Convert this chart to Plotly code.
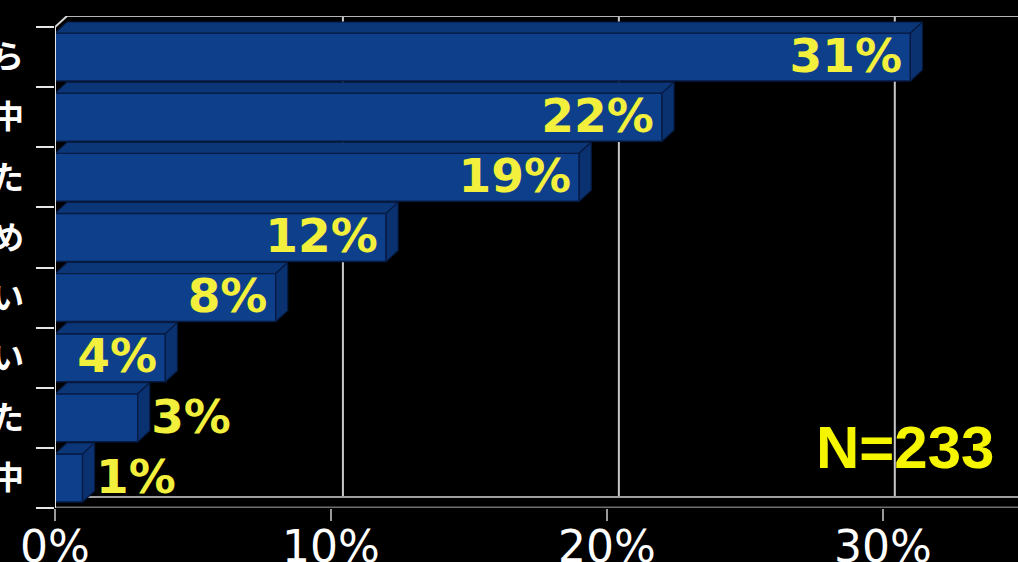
import plotly.graph_objects as go

# Survey answers (only the tail characters of each label are shown)
labels = ["ら", "中", "た", "め", "い", "い", "た", "中"]
values = [31, 22, 19, 12, 8, 4, 3, 1]
value_text = [f"{v}%" for v in values]
x_ticks = [0, 10, 20, 30]
x_tick_text = ["0%", "10%", "20%", "30%"]
sample_note = "N=233"

# Pseudo-3D depth of the bars and of the back wall, in data units
DX = 0.435   # horizontal depth (percent units)
DY = 0.183   # vertical depth (category units)
BAR_W = 0.8
X_MAX = 34.9
Y_BOTTOM = len(labels) - 0.5
Y_TOP = -0.5 - DY

FRONT = "#0d3f8a"
TOP = "#0b3678"
SIDE = "#0a3270"
EDGE = "#071a42"
YELLOW = "#f2f03c"

fig = go.Figure()
ys = list(range(len(labels)))

fig.add_trace(go.Bar(
    x=values, y=ys, orientation="h", width=BAR_W,
    marker=dict(color=FRONT, line=dict(color=EDGE, width=1.5)),
    hoverinfo="skip", showlegend=False,
))

# Top and side faces derived from each bar's value
for i, v in enumerate(values):
    top = i - BAR_W / 2
    bot = i + BAR_W / 2
    fig.add_trace(go.Scatter(
        x=[0, v, v + DX, DX, 0],
        y=[top, top, top - DY, top - DY, top],
        fill="toself", fillcolor=TOP, mode="lines",
        line=dict(color=EDGE, width=1.2),
        hoverinfo="skip", showlegend=False,
    ))
    fig.add_trace(go.Scatter(
        x=[v, v + DX, v + DX, v, v],
        y=[top, top - DY, bot - DY, bot, top],
        fill="toself", fillcolor=SIDE, mode="lines",
        line=dict(color=EDGE, width=1.2),
        hoverinfo="skip", showlegend=False,
    ))

# Value labels: inside the bar end when they fit, beyond the bar otherwise
inside = [v >= 4 for v in values]
text_x = [v - 0.3 if ins else v + DX + 0.05 for v, ins in zip(values, inside)]
text_pos = ["middle left" if ins else "middle right" for ins in inside]
fig.add_trace(go.Scatter(
    x=text_x, y=[y + 0.05 for y in ys], mode="text", text=value_text,
    textposition=text_pos,
    textfont=dict(family="DejaVu Sans", size=47, color=YELLOW, weight="bold"),
    hoverinfo="skip", showlegend=False, cliponaxis=False,
))

shapes = []
# Back-wall gridlines
for t in x_ticks[1:]:
    shapes.append(dict(type="line", xref="x", yref="y", layer="below",
                       x0=t + DX, x1=t + DX, y0=Y_TOP, y1=Y_BOTTOM - DY,
                       line=dict(color="#c8c8c8", width=2)))
# Back-wall top edge and the corner bevel
shapes.append(dict(type="line", xref="x", yref="y", layer="below",
                   x0=DX, x1=X_MAX + 1, y0=Y_TOP, y1=Y_TOP,
                   line=dict(color="#b4b4b4", width=2)))
shapes.append(dict(type="line", xref="x", yref="y", layer="above",
                   x0=0, x1=DX, y0=-0.5, y1=Y_TOP,
                   line=dict(color="#d8d8d8", width=2)))
# Floor back edge
shapes.append(dict(type="line", xref="x", yref="y", layer="below",
                   x0=DX, x1=X_MAX + 1, y0=Y_BOTTOM - DY, y1=Y_BOTTOM - DY,
                   line=dict(color="#a0a0a0", width=2)))
# Front axes
shapes.append(dict(type="line", xref="x", yref="y", layer="above",
                   x0=0, x1=X_MAX + 1, y0=Y_BOTTOM, y1=Y_BOTTOM,
                   line=dict(color="#707070", width=3)))
shapes.append(dict(type="line", xref="x", yref="y", layer="above",
                   x0=0, x1=0, y0=-0.5, y1=Y_BOTTOM,
                   line=dict(color="#e6e6e6", width=2)))

fig.update_layout(
    width=1018, height=562,
    margin=dict(l=55, r=0, t=16, b=54),
    paper_bgcolor="black", plot_bgcolor="black",
    shapes=shapes,
    showlegend=False,
    annotations=[dict(
        text=sample_note, xref="paper", yref="paper", x=0.883, y=0.122,
        xanchor="center", yanchor="middle", showarrow=False,
        font=dict(family="Liberation Sans", size=60, color="#f5f500", weight="bold"),
    )],
)
fig.update_xaxes(
    range=[0, X_MAX], tickvals=x_ticks, ticktext=x_tick_text,
    showgrid=False, zeroline=False, showline=False, automargin=False,
    ticks="outside", ticklen=12, tickwidth=2, tickcolor="#9a9a9a",
    ticklabelstandoff=-12,
    tickfont=dict(family="DejaVu Sans", size=44, color="white"),
)
fig.update_yaxes(
    range=[Y_BOTTOM, Y_TOP], tickvals=ys, ticktext=labels,
    showgrid=False, zeroline=False, showline=False, ticks="", automargin=False,
    ticklabelstandoff=30,
    tickfont=dict(family="Noto Sans CJK JP", size=32, color="white", weight="bold"),
    minor=dict(tickvals=[k - 0.5 for k in range(len(labels) + 1)],
               ticks="outside", ticklen=18, tickwidth=2, tickcolor="#e6e6e6",
               showgrid=False),
)

fig.write_html("out.html")
